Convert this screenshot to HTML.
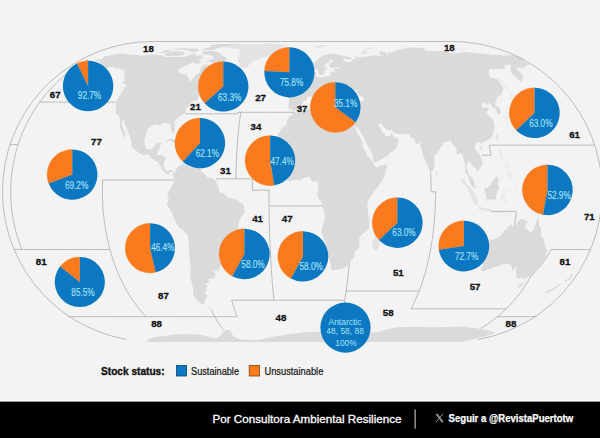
<!DOCTYPE html>
<html><head><meta charset="utf-8"><title>Stock status</title>
<style>html,body{margin:0;padding:0;background:#f3f3f3}body{width:600px;height:438px;overflow:hidden;font-family:"Liberation Sans",sans-serif}svg{display:block}</style></head>
<body><svg width="600" height="438" viewBox="0 0 600 438">
<rect width="600" height="438" fill="#f3f3f3"/>
<clipPath id="gc"><path d="M152.5 40.7H452.1A150.9 150.9 0 0 1 452.1 342.5H152.5A150.9 150.9 0 0 1 152.5 40.7Z"/></clipPath>
<g clip-path="url(#gc)"><path d="M95.7 60.1L102.6 58.9L103.7 56.7L113.0 54.7L122.4 53.2L127.9 54.2L136.7 55.1L142.6 55.8L153.1 54.5L161.2 55.3L164.7 57.0L173.0 57.0L182.6 57.0L189.4 55.3L194.9 52.7L195.8 55.8L202.4 55.3L203.0 58.3L193.5 62.2L180.0 67.9L178.3 69.7L178.6 72.5L187.0 75.3L189.0 79.1L190.3 82.0L194.4 76.6L199.3 72.5L200.8 67.9L203.8 64.4L209.1 65.0L212.1 66.5L212.6 70.2L217.7 67.9L218.6 67.5L219.8 71.8L223.1 76.6L224.3 80.8L217.6 83.9L209.2 83.9L201.6 88.8L209.7 86.4L210.7 86.3L208.5 89.7L210.1 91.6L215.3 91.2L213.3 92.9L208.4 94.8L205.0 96.1L205.9 93.4L204.4 93.4L199.2 95.9L197.5 97.8L198.0 99.8L191.3 101.9L190.7 104.1L187.5 107.1L186.2 109.1L185.7 112.6L181.5 115.3L175.7 119.5L174.5 122.7L174.9 130.2L173.9 133.9L171.6 132.4L170.9 128.0L170.0 123.7L167.0 123.1L162.2 123.3L160.1 125.4L155.6 124.4L152.2 125.4L147.6 129.1L146.0 134.6L144.3 140.5L145.5 147.3L148.0 149.8L152.2 148.8L155.4 144.6L156.4 143.0L161.4 142.3L159.7 147.9L157.9 151.3L156.6 155.2L161.2 155.0L165.4 157.0L164.3 162.8L163.9 166.2L165.6 170.2L168.0 171.3L170.2 169.7L173.8 171.8L173.1 174.8L172.1 172.0L169.6 172.0L168.6 174.8L164.6 172.5L161.5 168.5L160.4 166.2L158.0 161.6L154.8 160.5L151.0 158.2L148.1 154.5L143.1 155.2L138.6 152.5L135.7 150.2L131.4 146.8L131.5 142.3L130.7 138.3L128.1 132.4L126.8 128.5L124.8 124.8L124.4 121.0L122.7 120.1L121.9 123.7L123.5 129.1L124.7 133.5L125.2 137.9L125.0 139.2L122.8 134.6L121.0 129.5L120.1 126.9L119.9 122.7L119.7 118.4L118.7 115.3L115.9 114.2L115.7 109.5L115.9 107.5L116.1 102.5L118.4 97.2L122.5 91.2L124.1 87.2L127.2 86.1L125.6 84.3L122.5 82.9L124.1 80.8L124.8 76.6L124.3 74.1L124.7 71.0L122.0 69.7L119.7 68.2L114.9 67.9L112.8 66.5L109.8 66.7L105.8 69.0L102.6 69.4L99.7 70.2L96.6 71.8L90.1 73.3L82.0 75.8L77.4 76.4L85.2 74.1L92.9 71.0L95.5 69.9L91.5 69.9L91.5 67.9L89.0 66.9L90.4 65.0L94.4 63.6L99.8 62.9L102.0 61.5L97.0 61.5ZM227.4 58.9L221.8 62.9L218.0 65.0L212.6 63.6L210.2 61.5L205.2 61.5L213.9 58.3L212.4 55.8L206.5 54.7L202.4 54.1L202.9 51.0L212.1 50.8L216.6 51.7L221.3 53.8L223.0 55.8L227.2 58.3ZM163.9 55.8L177.8 56.1L184.3 54.7L184.2 51.5L174.6 51.2L167.0 53.0ZM159.9 52.5L163.2 53.2L171.9 51.5L170.8 50.2L165.3 50.2ZM206.0 48.2L216.3 48.5L222.8 47.0L230.8 45.9L241.9 44.2L233.2 43.8L219.8 44.1L211.1 44.7L211.7 46.2ZM201.1 49.9L214.3 49.9L215.8 48.8L206.4 48.0ZM174.3 49.5L185.5 50.0L192.1 51.5L194.1 52.5L199.1 50.5L197.7 48.6L189.1 48.6L184.6 48.2L176.1 48.6ZM195.2 60.2L198.9 60.2L201.4 62.5L196.9 64.3L194.2 62.9ZM164.8 141.4L170.1 138.5L173.3 139.0L177.6 142.3L180.6 144.1L181.7 145.2L176.3 145.9L175.7 144.1L172.0 141.7L169.8 140.3L166.4 141.7ZM180.7 149.3L183.9 145.9L188.4 146.1L190.7 148.8L188.0 149.8L185.1 150.7ZM217.1 88.6L224.0 81.7L224.7 81.7L226.6 87.0L226.5 88.8L224.9 90.4L221.4 90.1ZM174.5 173.2L177.4 167.4L178.6 166.2L183.4 163.5L184.6 163.0L184.0 166.2L186.7 163.5L189.8 167.4L193.1 167.1L196.4 167.8L199.7 166.9L201.4 172.0L204.4 173.2L207.5 177.8L212.5 178.3L215.8 181.3L219.0 187.6L219.0 191.8L221.5 193.0L224.0 193.4L228.2 197.7L233.2 198.6L238.2 200.5L240.7 203.1L243.6 204.0L244.5 208.7L244.3 212.9L241.1 217.6L238.8 222.2L238.2 226.9L238.2 232.6L237.3 238.3L236.0 242.8L234.6 245.1L230.6 245.5L227.9 247.3L224.7 250.6L224.9 253.9L224.7 257.2L222.9 261.5L220.8 265.2L219.4 269.0L217.4 270.9L215.6 270.9L211.9 269.6L214.3 272.1L215.4 274.0L214.7 277.2L212.9 278.7L208.5 279.1L209.1 282.7L205.0 283.1L207.8 286.2L206.3 287.6L206.6 291.0L204.3 292.9L207.6 295.1L205.1 299.3L204.4 302.0L204.6 304.3L203.2 304.8L199.6 302.9L195.9 299.3L193.4 294.8L193.4 291.0L192.5 285.2L191.3 281.3L190.1 275.6L190.4 272.1L190.9 266.9L189.7 260.5L189.2 253.9L188.9 247.3L188.5 240.6L187.6 234.7L184.4 231.5L179.1 227.6L176.6 224.1L174.8 219.9L172.2 214.1L169.8 208.7L167.3 205.9L167.0 202.9L168.6 199.8L169.1 197.7L167.4 197.0L167.7 194.2L169.0 190.6L170.7 189.0L171.6 186.0L173.6 182.9L173.4 179.0L173.6 175.5L172.9 175.0ZM293.2 111.6L294.2 111.4L297.7 112.8L299.2 113.0L302.3 111.6L306.9 109.5L309.9 109.5L313.8 109.1L317.2 108.5L319.1 109.1L318.7 111.8L318.1 115.3L319.4 116.7L322.8 117.6L326.2 118.8L329.0 121.6L332.2 123.1L333.7 121.6L333.7 119.3L335.8 117.6L338.1 118.2L341.4 120.1L344.6 121.0L347.8 121.8L349.3 120.7L351.6 120.5L352.9 121.0L353.5 123.7L354.3 126.9L356.1 130.2L357.5 133.5L359.4 136.8L362.0 141.2L362.6 143.5L362.8 146.6L365.2 150.2L367.2 155.9L369.7 158.2L372.4 161.2L373.8 162.8L373.7 165.1L376.8 167.6L380.0 165.8L383.3 165.5L386.9 164.1L386.9 167.6L385.3 173.2L383.0 179.0L380.5 183.6L377.8 187.1L374.8 190.6L373.1 192.7L370.6 196.5L369.2 198.9L368.4 201.2L367.2 204.7L367.6 207.8L367.8 211.8L368.2 215.3L369.3 216.9L369.3 221.1L369.2 225.7L368.7 229.2L366.1 231.5L362.6 233.5L359.1 237.9L359.5 241.7L359.5 246.2L359.0 248.4L354.4 251.7L354.6 255.0L353.4 257.9L351.1 260.5L349.3 263.3L345.7 266.9L342.0 269.0L336.5 269.4L333.2 270.7L330.9 269.6L330.8 266.9L330.8 264.1L329.5 260.5L328.4 257.4L326.5 253.3L325.6 247.3L325.7 244.4L323.9 239.4L321.9 233.8L321.6 230.3L322.3 226.9L324.4 221.1L325.1 217.6L324.2 212.5L322.7 205.9L321.9 203.1L318.1 197.7L317.0 193.4L318.1 190.9L318.1 187.1L318.4 182.5L316.8 181.3L313.9 181.5L312.3 181.8L310.6 178.5L309.8 177.1L308.0 176.9L304.3 177.6L302.0 179.0L299.0 180.6L297.3 179.9L295.6 179.4L292.3 180.6L289.8 181.5L287.3 180.1L284.3 177.1L281.5 174.3L280.4 172.0L279.6 169.7L277.5 166.7L275.9 163.9L274.9 160.7L273.5 157.7L275.2 154.7L276.2 150.0L275.8 146.8L274.7 143.5L276.6 137.4L279.1 132.2L281.8 128.2L284.1 126.5L286.5 124.8L287.1 122.7L287.0 120.5L289.1 116.7L290.5 116.1L291.8 115.3L293.1 112.8ZM293.7 111.2L292.7 109.9L291.0 108.7L288.7 109.1L289.0 106.3L287.9 105.5L288.9 102.7L289.3 100.7L289.1 98.2L288.5 97.2L290.5 95.9L294.2 96.1L297.1 96.3L299.6 96.5L300.4 94.4L300.6 91.6L299.1 89.3L295.8 88.2L295.4 87.2L298.0 86.4L300.0 86.8L299.8 84.8L302.4 85.2L305.0 82.5L307.2 81.8L308.5 80.0L308.9 79.1L311.9 78.3L314.0 78.1L314.2 76.1L313.4 75.0L313.1 72.5L315.0 72.2L316.4 71.4L316.4 73.3L315.8 75.0L315.6 76.1L317.3 76.8L319.4 76.8L321.5 77.4L324.8 76.6L327.5 76.3L329.3 76.6L330.8 75.3L330.4 72.9L331.6 71.6L334.4 72.4L334.6 70.5L333.1 69.1L336.3 68.7L338.9 68.5L341.3 67.9L339.2 67.2L336.0 67.3L332.3 68.1L330.2 67.2L329.6 65.7L329.5 63.6L332.2 61.5L333.5 60.6L332.0 59.8L329.7 60.1L329.1 61.5L328.0 62.5L325.7 63.9L324.5 65.7L324.6 67.0L326.8 67.9L326.3 69.0L324.4 70.1L324.4 72.5L323.8 73.8L321.7 75.0L319.9 75.1L319.1 73.7L318.1 71.4L317.0 69.4L316.1 68.2L314.8 69.6L312.9 70.8L311.6 71.0L309.7 69.7L309.2 67.3L308.7 65.3L310.2 64.2L313.0 62.9L315.4 61.9L317.1 60.2L318.1 58.7L319.8 57.7L320.7 56.4L322.9 55.5L324.6 54.9L327.4 54.5L330.0 53.6L332.0 53.5L334.6 53.6L338.4 54.4L337.5 55.0L341.1 55.4L344.8 55.7L350.3 57.3L352.3 58.5L351.2 59.3L348.8 59.6L344.2 58.7L341.6 58.2L344.2 60.2L345.7 61.7L348.7 62.5L349.6 61.7L352.7 61.5L351.4 59.9L353.5 59.0L356.1 59.3L355.5 57.7L353.8 56.3L357.2 56.8L358.1 57.3L360.0 57.5L364.2 56.4L366.7 56.7L370.0 56.3L373.3 55.8L373.2 54.9L377.7 55.5L381.7 56.1L384.0 56.7L380.4 54.7L379.1 53.0L379.9 51.5L380.7 51.2L383.3 51.5L386.0 53.0L388.1 55.8L389.2 56.4L387.2 52.5L388.1 52.3L390.8 52.2L394.0 52.5L392.2 51.0L397.7 50.5L397.5 49.5L404.7 48.6L409.3 48.2L411.9 47.2L416.0 47.8L422.2 48.2L425.6 49.1L424.3 50.5L428.0 50.7L436.1 51.5L440.4 50.8L444.1 51.0L451.8 53.6L454.8 53.0L460.6 53.0L460.4 51.8L468.0 52.2L474.3 53.0L478.9 53.6L484.7 53.6L490.0 55.0L492.5 55.1L498.6 54.7L501.3 54.6L503.4 55.8L508.5 54.9L515.2 55.8L525.0 57.7L535.0 59.4L535.6 61.5L527.6 60.2L523.2 59.2L524.3 61.1L522.7 61.3L530.4 64.6L526.2 65.3L524.5 66.7L524.2 67.9L518.4 67.9L516.1 68.2L518.8 71.0L521.8 73.8L522.6 75.8L523.1 78.8L521.6 79.1L522.3 80.8L522.1 82.5L517.9 79.1L512.3 74.1L510.8 71.3L510.5 67.9L511.0 65.4L510.6 64.3L507.0 65.3L503.3 65.4L505.4 69.0L499.7 68.7L496.2 69.0L489.6 69.0L488.7 71.8L488.9 76.1L490.8 77.4L495.0 78.3L497.1 79.1L500.9 84.3L503.4 87.9L502.8 90.6L501.7 94.4L497.4 97.0L496.4 98.6L496.4 101.1L494.8 104.5L497.3 106.5L500.0 109.1L501.2 113.0L499.2 113.8L497.5 114.2L496.5 111.2L495.2 108.1L492.3 107.1L490.8 104.1L489.3 103.1L486.2 105.5L485.1 101.7L482.5 104.1L480.6 104.7L483.6 108.1L486.1 107.5L489.2 108.5L487.3 111.2L486.3 113.2L489.4 116.3L493.2 120.5L494.5 123.7L494.8 126.9L493.7 131.3L493.0 134.6L491.3 137.2L489.4 139.2L486.8 140.5L483.6 141.9L481.4 143.0L481.0 145.0L479.6 142.3L477.1 142.1L475.5 144.1L474.7 147.9L476.4 151.3L479.8 154.7L482.2 160.5L482.7 164.4L480.2 167.4L479.1 169.7L476.5 171.8L476.2 168.5L473.6 167.1L471.6 163.9L468.9 162.3L467.9 160.5L467.5 163.9L466.6 168.5L468.2 172.0L469.2 175.5L471.8 177.3L474.2 181.3L474.7 186.0L475.9 188.5L474.6 188.5L471.3 185.3L469.5 181.3L469.0 177.8L466.6 173.6L465.4 173.2L465.4 168.5L465.0 163.9L463.6 159.3L462.1 153.6L459.6 153.6L457.0 154.7L456.7 150.2L454.4 146.1L451.8 143.5L450.6 140.5L448.7 141.2L446.3 141.9L443.2 142.6L443.2 144.6L441.4 146.4L439.4 149.5L437.1 152.9L435.2 155.0L434.1 157.0L434.7 161.4L434.2 165.1L434.4 167.8L433.2 170.2L432.0 171.3L430.9 172.9L429.1 170.8L427.6 165.8L425.6 161.6L423.9 157.0L422.3 152.5L420.9 147.9L420.2 143.5L419.5 140.8L419.0 143.0L417.5 144.1L415.8 143.5L413.8 140.5L415.5 139.2L412.7 138.3L410.9 137.0L409.8 135.0L408.8 133.7L405.6 133.9L400.8 134.4L396.8 133.7L393.9 133.0L391.9 129.8L389.2 131.1L385.8 129.1L382.6 125.9L381.0 123.3L378.7 123.7L378.1 125.2L379.5 127.6L382.0 130.9L382.6 133.0L384.2 132.2L385.0 134.6L385.0 136.1L387.5 136.6L389.8 135.7L392.3 131.7L392.5 134.6L394.0 137.0L396.6 137.7L398.9 140.1L397.5 144.8L396.3 147.9L394.6 150.2L390.7 152.5L387.7 155.7L383.1 158.2L376.5 162.1L374.1 162.3L373.1 159.3L372.6 155.9L371.9 153.2L370.0 149.1L367.3 145.0L365.6 142.3L364.3 137.9L361.9 134.6L359.7 130.6L357.8 127.8L357.2 124.8L356.8 128.5L354.9 126.7L353.7 123.9L352.9 121.0L354.8 121.4L356.1 121.0L356.7 118.4L357.3 115.5L357.5 112.2L357.7 109.9L355.2 109.5L352.2 111.0L349.2 109.3L347.5 110.7L345.4 109.7L344.0 109.1L342.2 106.5L341.8 104.1L341.7 103.1L343.6 102.3L345.7 101.1L349.4 100.7L352.1 99.2L354.4 99.2L356.8 100.5L359.9 101.1L361.7 101.1L364.3 99.9L363.9 98.2L360.8 96.1L358.0 94.4L355.7 92.9L357.3 90.6L358.9 89.3L356.5 90.1L353.5 91.0L353.3 92.5L355.5 92.7L354.0 93.4L351.4 94.6L349.7 92.7L351.1 91.4L348.6 90.6L346.7 90.6L345.6 93.1L344.3 94.9L343.5 96.9L343.4 98.2L344.0 99.4L345.5 101.1L343.4 101.1L342.4 102.1L341.3 101.7L338.2 101.5L338.1 103.1L336.8 102.1L336.5 104.1L337.6 105.3L338.8 107.7L337.3 107.3L337.7 110.1L336.8 110.3L335.5 109.5L334.7 107.5L334.3 106.5L333.6 105.1L332.1 103.1L331.3 100.5L330.9 99.2L329.1 98.0L326.6 96.3L324.6 94.9L323.4 92.9L322.2 93.2L322.2 92.1L320.2 92.7L320.5 94.9L322.4 96.3L323.4 98.2L326.4 99.6L326.2 100.3L327.6 100.9L330.1 102.9L329.9 103.5L328.1 102.3L327.3 103.7L328.2 105.1L327.3 106.5L326.2 107.3L326.2 105.9L326.6 104.1L325.8 103.1L324.5 101.9L323.6 101.5L321.7 100.5L320.5 99.6L318.6 98.4L317.8 97.2L317.5 96.1L316.7 95.1L315.4 94.6L314.1 95.5L313.1 95.9L311.2 97.0L310.3 96.7L308.2 96.3L307.0 96.9L306.9 98.4L307.1 99.4L305.6 100.3L303.6 101.1L303.2 102.1L301.8 104.1L302.6 105.5L301.5 106.5L301.1 107.9L298.9 109.7L295.6 109.7L294.2 111.0ZM294.3 84.1L297.4 83.8L300.2 83.1L304.3 82.4L303.7 81.2L304.7 79.6L302.7 79.1L302.3 78.1L300.7 76.4L300.1 75.0L298.9 74.1L298.0 74.1L299.6 72.4L299.9 71.6L297.0 71.6L298.2 70.1L295.7 70.1L294.6 71.8L294.0 73.3L294.9 75.0L295.8 75.8L295.3 76.3L297.5 75.9L297.9 77.4L298.2 78.4L296.1 78.6L296.5 79.4L295.8 80.8L295.0 81.2L296.7 81.5L298.5 81.7L296.4 82.2L295.3 83.4ZM288.6 81.7L291.1 81.2L293.4 80.5L294.0 78.6L294.8 76.6L293.9 75.4L292.3 75.3L290.7 76.6L288.6 77.1L288.5 78.4L289.5 78.9L289.1 80.0L288.0 80.6ZM484.4 188.5L484.7 191.8L485.9 195.3L486.2 198.4L488.4 199.6L492.8 199.3L495.1 200.5L495.8 197.7L497.6 190.6L499.7 189.5L498.0 184.8L497.7 182.0L499.6 179.7L496.4 176.2L495.2 178.3L492.3 181.5L490.8 185.0L488.2 186.2L487.5 188.5L486.0 188.3L485.2 187.6ZM525.9 195.6L526.3 197.7L527.1 199.6L529.7 197.0L532.2 195.6L536.6 197.7L542.0 200.7L544.8 204.0L547.5 205.9L546.5 207.8L548.6 211.8L552.0 216.9L547.4 215.5L546.2 214.1L543.0 210.1L540.3 211.8L539.3 213.4L536.0 213.2L533.0 210.6L531.2 211.5L531.0 208.3L532.8 207.1L531.0 203.6L527.0 202.2L525.1 200.3ZM485.9 243.9L486.9 242.4L490.5 240.1L495.0 239.0L500.3 236.0L501.9 233.8L503.8 230.3L506.5 229.2L508.7 225.7L511.4 224.6L513.0 226.9L515.2 226.6L516.5 223.4L518.2 220.9L521.5 218.5L525.2 220.4L528.2 220.4L526.4 223.4L525.0 226.9L527.1 228.9L530.5 232.8L533.3 230.3L535.3 224.6L536.3 221.1L538.1 216.9L539.1 221.1L538.9 225.3L540.9 228.0L541.0 231.2L541.4 236.7L543.9 239.0L544.2 240.8L544.7 246.0L547.2 250.2L545.8 254.8L545.5 257.4L542.4 262.6L538.6 266.7L536.6 268.8L532.9 273.1L530.9 276.2L527.4 277.0L523.6 279.5L522.6 277.2L519.5 278.9L517.0 278.1L515.9 275.2L516.6 272.7L515.3 272.3L516.1 270.7L517.1 266.0L514.5 269.0L512.2 270.4L511.6 266.9L511.1 265.0L507.4 263.7L504.1 264.1L498.9 265.4L495.2 266.9L491.2 268.8L488.2 269.0L484.1 271.1L481.4 270.7L480.4 269.6L481.9 267.5L483.2 264.8L483.2 261.1L483.6 257.9L483.5 251.7L484.8 247.3ZM147.5 342.0L148.3 339.3L155.0 337.3L163.3 336.0L176.0 334.6L190.0 334.0L201.7 335.0L208.0 336.8L213.3 338.3L218.0 337.6L221.0 335.0L223.5 331.5L226.0 329.8L230.0 330.2L232.0 333.0L233.0 336.5L240.0 339.3L256.7 340.0L265.0 338.6L273.3 336.7L290.0 334.0L303.0 332.6L316.7 331.7L330.0 331.7L350.0 332.4L370.0 332.7L380.0 331.7L388.0 329.3L396.7 327.3L416.7 326.7L428.0 327.2L440.0 327.3L452.0 326.8L463.3 326.7L476.7 328.3L490.0 330.8L495.5 332.8L486.0 336.0L472.0 339.6L460.0 342.0Z" fill="#dadada"/><path d="M226.2 46.8L233.4 45.5L243.5 44.3L258.9 43.9L271.9 43.5L280.8 44.3L290.4 44.6L283.9 45.9L282.1 47.8L279.0 50.5L277.2 52.5L274.4 54.1L276.6 54.7L270.2 56.4L264.0 57.0L258.2 59.6L252.8 60.9L246.3 67.9L245.0 68.1L240.4 66.5L238.5 62.2L237.5 58.3L238.8 55.3L241.9 54.1L239.6 52.5L239.3 49.1L231.1 48.6L227.4 48.2ZM272.1 60.2L275.5 59.0L282.8 58.9L285.6 60.9L279.6 63.0L273.8 62.5L274.9 61.5ZM174.5 149.3L177.7 149.8L177.6 150.4L174.4 150.0ZM192.7 149.1L195.2 149.3L195.2 150.2L192.5 150.2ZM383.7 219.9L385.2 228.0L383.2 232.6L382.2 236.0L379.8 243.9L378.0 249.3L374.6 250.9L372.6 247.3L372.3 242.8L374.3 238.3L374.3 231.5L376.1 229.2L379.5 226.9L381.9 223.4ZM313.7 46.6L316.5 45.7L322.5 45.4L329.6 45.4L327.2 46.6L323.1 46.7L320.5 48.1L317.1 47.4ZM361.1 52.7L363.7 53.9L368.4 54.0L365.7 52.0L366.7 50.0L369.3 48.8L375.2 47.9L371.4 47.8L365.1 48.9L363.9 50.5L361.7 52.0ZM400.1 46.2L404.5 45.9L411.3 46.6L406.9 47.0ZM452.2 49.1L456.5 48.6L465.7 49.3L461.4 49.7ZM508.3 53.6L511.0 53.0L512.9 53.6L510.6 53.8ZM496.9 133.9L497.9 134.6L497.7 141.2L495.8 139.0L495.6 136.8L496.3 134.6ZM479.4 147.5L481.1 145.5L482.9 146.6L481.8 149.3L480.2 149.5ZM435.4 170.2L437.2 173.2L437.4 176.4L436.3 177.1L435.6 174.3ZM460.8 178.7L464.2 179.9L466.3 183.2L469.4 186.9L473.2 190.9L474.9 194.2L476.5 197.2L478.1 199.3L477.9 205.0L476.2 205.2L472.9 201.0L469.9 194.4L467.4 188.3L464.3 184.6L461.5 181.1ZM477.4 207.8L479.8 206.6L482.7 207.8L485.9 208.3L489.5 208.7L492.2 210.1L492.1 211.8L488.1 211.1L483.3 209.9L479.2 209.2ZM493.1 210.8L496.4 211.1L499.7 211.3L503.0 211.5L506.4 211.1L506.3 212.5L501.3 212.9L496.3 212.9L493.0 212.5ZM519.2 282.7L521.4 283.5L524.3 283.1L522.7 285.6L520.2 287.6L517.6 288.2L518.1 285.8Z" fill="#e3e3e3"/><path d="M497.3 76.8L501.1 80.0L504.8 84.3L508.2 86.1L507.9 88.8L510.3 91.0L508.6 91.7L505.8 87.9L503.0 84.3L499.6 80.8L497.8 78.3ZM511.2 100.1L509.5 96.7L508.7 92.5L512.2 94.8L515.6 94.8L517.4 96.7L515.3 99.2L511.5 98.2L511.6 100.1ZM513.2 100.3L516.5 104.1L516.6 107.1L518.9 111.8L518.2 113.2L516.7 113.2L516.0 114.0L514.0 114.0L514.1 114.7L513.2 116.3L511.2 114.7L511.3 114.0L508.8 114.5L507.3 115.3L505.1 115.3L504.7 114.0L506.2 112.2L508.4 112.0L510.7 112.0L511.1 111.2L511.0 108.5L511.5 108.1L511.8 109.5L513.5 108.3L513.7 106.1L512.9 103.1L512.0 101.5L512.0 100.7ZM505.3 115.5L507.1 115.9L510.8 114.9L510.8 116.7L509.4 117.8L507.7 117.4L508.2 119.5L507.6 121.0L507.4 121.6L506.3 121.0L505.3 118.4L504.1 117.4L504.7 116.1ZM499.1 149.1L501.7 149.3L502.2 153.6L502.0 157.0L504.0 159.3L506.5 159.8L506.8 162.1L505.0 160.5L502.4 160.0L500.7 158.6L499.3 155.9L499.5 154.1ZM505.0 175.7L507.1 171.8L510.2 169.2L512.2 173.2L512.1 177.1L511.0 178.7L508.4 177.1L507.0 174.6ZM503.8 164.4L507.2 165.1L509.4 162.8L509.8 165.8L509.3 168.5L507.0 170.2L505.2 168.5ZM496.8 172.5L499.9 165.5L500.4 166.2L497.4 172.7ZM506.7 216.0L509.6 212.0L513.5 211.5L512.0 213.4L508.4 215.7ZM499.5 214.1L502.4 214.6L501.8 216.0L499.7 215.3ZM500.9 203.8L501.8 200.0L500.1 198.4L501.1 194.2L501.9 191.8L503.5 188.8L507.2 189.7L510.2 188.3L509.7 190.9L503.9 190.6L502.7 193.9L504.7 194.2L507.7 193.9L505.5 196.0L504.6 198.2L505.9 200.0L507.0 202.4L506.2 204.7L504.5 202.9L503.8 198.9L502.8 200.0L502.5 204.7ZM514.7 186.7L516.7 188.3L515.6 193.7L514.7 190.6ZM515.4 198.9L520.1 198.9L520.0 200.5L515.4 200.0ZM549.3 204.7L551.8 203.6L555.3 201.7L555.7 203.6L551.6 206.4ZM207.5 304.8L211.0 306.3L215.2 311.3L213.0 312.6L209.2 309.6Z" fill="#ececec"/></g>
<path d="M545.7 293L552 289.8L560.5 284.6M565 281.2L568 279.5L570.8 277.6L571.5 274.5" fill="none" stroke="#d6d6d6" stroke-width="1.2" stroke-linecap="round"/>
<path d="M88.0 59.6L81.0 63.6L74.4 68.0L68.1 72.7L62.1 77.6L56.5 82.8L51.2 88.2L46.2 93.9L41.5 99.7L37.2 105.7L33.2 111.8L29.6 118.1L26.2 124.6L23.2 131.1L20.5 137.8L18.2 144.6L16.1 151.4L14.4 158.3L13.0 165.3L12.0 172.3L11.2 179.4L10.8 186.4L10.7 193.5L11.0 200.7L11.5 207.8L12.4 214.9L13.7 221.9L15.2 228.9L17.1 235.9L19.3 242.7L21.8 249.5M39.8 102.1L44.5 102.1L49.3 102.1L54.0 102.1L58.8 102.1L63.5 102.1L68.3 102.1L73.0 102.1L77.8 102.1L82.5 102.1L87.3 102.1L92.0 102.1L96.8 102.1L101.6 102.1L106.3 102.1L111.1 102.1L115.8 102.1M13.8 249.5L18.6 249.5L23.4 249.5L28.2 249.5L33.0 249.5L37.8 249.5L42.6 249.5L47.4 249.5L52.2 249.5L57.1 249.5L61.9 249.5L66.7 249.5L71.5 249.5L76.3 249.5L81.1 249.5L85.9 249.5L90.7 249.5L95.5 249.5L100.3 249.5L105.1 249.5L109.9 249.5M173.4 180.0L168.3 180.0L163.3 180.0L158.2 180.0L153.2 180.0L148.1 180.0L143.1 180.0L138.0 180.0L133.0 180.0L127.9 180.0L122.9 180.0L117.8 180.0L112.8 180.0L107.7 180.0L102.7 180.0L102.4 187.2L102.4 194.5L102.6 201.8L103.0 209.1L103.7 216.3L104.6 223.5L105.7 230.6L107.1 237.7L108.7 244.7L110.5 251.6L112.6 258.4L114.9 265.0L117.4 271.5L120.2 277.9L123.2 284.1L126.4 290.1L129.9 295.9L133.6 301.5L137.5 306.8L141.7 311.9L146.1 316.7M68.0 316.7L72.0 316.7L75.9 316.7L79.8 316.7L83.8 316.7L87.7 316.7L91.6 316.7L95.6 316.7L99.5 316.7L103.4 316.7L107.4 316.7L111.3 316.7L115.2 316.7L119.2 316.7L123.1 316.7L127.0 316.7L131.0 316.7L134.9 316.7L138.9 316.7L142.8 316.7L146.7 316.7L150.7 316.7L154.6 316.7L158.5 316.7L162.5 316.7L166.4 316.7L170.3 316.7L174.3 316.7L178.2 316.7L182.1 316.7L186.1 316.7L190.0 316.7L193.9 316.7L197.9 316.7L201.8 316.7L205.7 316.7L209.7 316.7L213.6 316.7L217.6 316.7L221.5 316.7L225.4 316.7L229.4 316.7L233.3 316.7L237.2 316.7L235.2 311.6L233.4 306.0L231.6 300.2L236.0 300.2L240.3 300.2L244.7 300.2L249.0 300.2L253.4 300.2L257.7 300.2L262.1 300.2L266.4 300.2L270.8 300.2L275.1 300.2L279.5 300.2L283.8 300.2L288.2 300.2L292.5 300.2L296.9 300.2L301.2 300.2L305.6 300.2L309.9 300.2L314.3 300.2L318.6 300.2L323.0 300.2L327.3 300.2L331.7 300.2L336.0 300.2L340.3 300.2L344.7 300.2M211.5 310.5L214.3 316.0L217.2 321.1L220.4 325.8L223.7 330.1M349.4 262.6L348.7 269.4L348.0 276.1L347.3 282.5L346.5 288.8L345.6 294.9L344.6 300.7L343.6 306.3L342.5 311.6L341.4 316.6L340.2 321.2L338.9 325.6L337.6 329.5M346.1 291.0L350.7 291.0L355.3 291.0L359.8 291.0L364.4 291.0L369.0 291.0L373.5 291.0L378.1 291.0L382.7 291.0L387.2 291.0L391.8 291.0L396.4 291.0L400.9 291.0L405.5 291.0L410.1 291.0L414.6 291.0L419.2 291.0M430.6 173.2L431.0 182.5L431.1 191.8L435.6 191.8L435.5 199.0L435.3 206.2L434.9 213.3L434.4 220.4L433.7 227.5L432.9 234.5L431.9 241.4L430.8 248.3L429.5 255.0L428.0 261.7L426.5 268.2L424.7 274.5L422.8 280.7L420.8 286.8L418.6 292.6L416.2 298.2L413.8 303.7L411.1 308.8L415.2 308.8L419.4 308.8L423.5 308.8L427.7 308.8L431.8 308.8L435.9 308.8L440.1 308.8L444.2 308.8L448.3 308.8L452.5 308.8L456.6 308.8L460.8 308.8L464.9 308.8L469.0 308.8L473.2 308.8L477.3 308.8L481.5 308.8L485.6 308.8L489.7 308.8L493.9 308.8L498.0 308.8L502.2 308.8L506.3 308.8M590.8 249.5L585.8 249.5L580.8 249.5L575.8 249.5L570.8 249.5L565.8 249.5L560.8 249.5L555.8 249.5L550.8 249.5L544.6 260.5L536.0 271.1L530.9 276.2L527.2 282.5L523.3 288.5L519.0 294.4L514.4 300.1L509.6 305.5L504.4 310.6L499.0 315.5L493.2 320.1L487.2 324.4L480.8 328.3M497.5 316.7L501.4 316.7L505.3 316.7L509.2 316.7L513.1 316.7L517.0 316.7L521.0 316.7L524.9 316.7L528.8 316.7L532.7 316.7L536.6 316.7M594.8 145.2L589.7 145.2L584.7 145.2L579.7 145.2L574.7 145.2L569.6 145.2L564.6 145.2L559.6 145.2L554.5 145.2L549.5 145.2L544.5 145.2L539.5 145.2L534.4 145.2L529.4 145.2L524.4 145.2L519.3 145.2L514.3 145.2L509.3 145.2L504.2 145.2L499.2 145.2L494.2 145.2L489.2 145.2L491.0 155.2L482.0 155.2M490.6 211.3L495.8 211.3L500.9 211.3L506.0 211.3L511.2 211.3L516.3 211.3L515.5 219.0L514.3 226.6M10.0 144.6L18.2 144.6M185.4 113.8L190.1 113.8L194.9 113.8L199.6 113.8L204.3 113.8L209.0 113.8L213.8 113.8L218.5 113.8L223.2 113.8L228.0 113.8L232.7 113.8L237.4 113.8L237.7 112.3L242.3 112.3L247.0 112.3L251.7 112.3L256.3 112.3L261.0 112.3L265.7 112.3L270.3 112.3L275.0 112.3L279.7 112.3L284.3 112.3L289.0 112.3L293.7 112.3M240.7 112.3L239.8 119.2L239.0 126.3L238.3 133.5L237.6 140.9L237.1 148.3L236.6 155.9L236.3 163.5L236.0 171.1L235.8 178.9M215.8 178.9L221.1 178.9L226.3 178.9L231.5 178.9L236.7 178.9L242.0 178.9L247.2 178.9L252.4 178.9L252.3 190.2L257.9 190.2L263.4 190.2L269.0 190.2L269.0 198.0L269.1 205.9L274.5 205.9L279.9 205.9L285.3 205.9L290.7 205.9L296.1 205.9L301.5 205.9L306.9 205.9L312.3 205.9L317.7 205.9L323.1 205.9M269.1 205.9L269.1 213.3L269.3 220.6L269.5 227.9L269.7 235.1L269.9 242.2L270.2 249.2L270.6 256.1L270.9 262.9L271.4 269.6L271.8 276.1L272.3 282.4L272.8 288.6L273.4 294.5L274.0 300.2" fill="none" stroke="#a9a9a9" stroke-width="0.75"/>
<path d="M126.4 339.4A150.1 150.1 0 0 1 152.5 41.5H452.1A150.1 150.1 0 0 1 478.2 339.4" fill="none" stroke="#adadad" stroke-width="0.8"/>
<path d="M88.1 86.0L76.94 63.40A25.2 25.2 0 0 1 88.1 60.8Z" fill="#fb7a1e" stroke="#fb7a1e" stroke-width="0.3" stroke-linejoin="round"/><path d="M88.1 86.0L88.1 60.8A25.2 25.2 0 1 1 76.94 63.40Z" fill="#0b78c1"/>
<path d="M223.3 86.5L204.68 103.33A25.1 25.1 0 0 1 223.3 61.4Z" fill="#fb7a1e" stroke="#fb7a1e" stroke-width="0.3" stroke-linejoin="round"/><path d="M223.3 86.5L223.3 61.4A25.1 25.1 0 1 1 204.68 103.33Z" fill="#0b78c1"/>
<path d="M289.4 72.3L264.33 71.04A25.1 25.1 0 0 1 289.4 47.199999999999996Z" fill="#fb7a1e" stroke="#fb7a1e" stroke-width="0.3" stroke-linejoin="round"/><path d="M289.4 72.3L289.4 47.199999999999996A25.1 25.1 0 1 1 264.33 71.04Z" fill="#0b78c1"/>
<path d="M335.4 107.3L355.61 122.18A25.1 25.1 0 1 1 335.4 82.19999999999999Z" fill="#fb7a1e" stroke="#fb7a1e" stroke-width="0.3" stroke-linejoin="round"/><path d="M335.4 107.3L335.4 82.19999999999999A25.1 25.1 0 0 1 355.61 122.18Z" fill="#0b78c1"/>
<path d="M534.5 112.9L516.13 130.15A25.2 25.2 0 0 1 534.5 87.7Z" fill="#fb7a1e" stroke="#fb7a1e" stroke-width="0.3" stroke-linejoin="round"/><path d="M534.5 112.9L534.5 87.7A25.2 25.2 0 1 1 516.13 130.15Z" fill="#0b78c1"/>
<path d="M200.0 143.2L182.70 161.39A25.1 25.1 0 0 1 200.0 118.1Z" fill="#fb7a1e" stroke="#fb7a1e" stroke-width="0.3" stroke-linejoin="round"/><path d="M200.0 143.2L200.0 118.1A25.1 25.1 0 1 1 182.70 161.39Z" fill="#0b78c1"/>
<path d="M270.1 160.6L274.18 185.37A25.1 25.1 0 1 1 270.1 135.5Z" fill="#fb7a1e" stroke="#fb7a1e" stroke-width="0.3" stroke-linejoin="round"/><path d="M270.1 160.6L270.1 135.5A25.1 25.1 0 0 1 274.18 185.37Z" fill="#0b78c1"/>
<path d="M72.3 174.6L48.75 183.58A25.2 25.2 0 0 1 72.3 149.4Z" fill="#fb7a1e" stroke="#fb7a1e" stroke-width="0.3" stroke-linejoin="round"/><path d="M72.3 174.6L72.3 149.4A25.2 25.2 0 1 1 48.75 183.58Z" fill="#0b78c1"/>
<path d="M547.5 189.9L542.93 214.68A25.2 25.2 0 0 1 547.5 164.70000000000002Z" fill="#fb7a1e" stroke="#fb7a1e" stroke-width="0.3" stroke-linejoin="round"/><path d="M547.5 189.9L547.5 164.70000000000002A25.2 25.2 0 1 1 542.93 214.68Z" fill="#0b78c1"/>
<path d="M397.4 222.7L379.03 239.95A25.2 25.2 0 0 1 397.4 197.5Z" fill="#fb7a1e" stroke="#fb7a1e" stroke-width="0.3" stroke-linejoin="round"/><path d="M397.4 222.7L397.4 197.5A25.2 25.2 0 1 1 379.03 239.95Z" fill="#0b78c1"/>
<path d="M463.9 246.1L438.86 249.74A25.3 25.3 0 0 1 463.9 220.79999999999998Z" fill="#fb7a1e" stroke="#fb7a1e" stroke-width="0.3" stroke-linejoin="round"/><path d="M463.9 246.1L463.9 220.79999999999998A25.3 25.3 0 1 1 438.86 249.74Z" fill="#0b78c1"/>
<path d="M150.1 248.1L155.68 272.37A24.9 24.9 0 1 1 150.1 223.2Z" fill="#fb7a1e" stroke="#fb7a1e" stroke-width="0.3" stroke-linejoin="round"/><path d="M150.1 248.1L150.1 223.2A24.9 24.9 0 0 1 155.68 272.37Z" fill="#0b78c1"/>
<path d="M244.4 254.0L232.21 276.17A25.3 25.3 0 0 1 244.4 228.7Z" fill="#fb7a1e" stroke="#fb7a1e" stroke-width="0.3" stroke-linejoin="round"/><path d="M244.4 254.0L244.4 228.7A25.3 25.3 0 1 1 232.21 276.17Z" fill="#0b78c1"/>
<path d="M303.0 256.4L290.86 278.48A25.2 25.2 0 0 1 303.0 231.2Z" fill="#fb7a1e" stroke="#fb7a1e" stroke-width="0.3" stroke-linejoin="round"/><path d="M303.0 256.4L303.0 231.2A25.2 25.2 0 1 1 290.86 278.48Z" fill="#0b78c1"/>
<path d="M79.8 282.0L59.97 266.62A25.1 25.1 0 0 1 79.8 256.9Z" fill="#fb7a1e" stroke="#fb7a1e" stroke-width="0.3" stroke-linejoin="round"/><path d="M79.8 282.0L79.8 256.9A25.1 25.1 0 1 1 59.97 266.62Z" fill="#0b78c1"/>
<circle cx="345.5" cy="327.6" r="25.1" fill="#0b78c1"/>
<g font-family="'Liberation Sans', sans-serif" font-size="10" fill="#a9e2f7" stroke="#a9e2f7" stroke-width="0.12" text-anchor="middle">
<text x="89.5" y="99.2" textLength="23.3" lengthAdjust="spacingAndGlyphs">92.7%</text>
<text x="229.7" y="101.2" textLength="23.3" lengthAdjust="spacingAndGlyphs">63.3%</text>
<text x="291.6" y="86.2" textLength="23.3" lengthAdjust="spacingAndGlyphs">75.8%</text>
<text x="345.6" y="107.3" textLength="23.3" lengthAdjust="spacingAndGlyphs">35.1%</text>
<text x="540.8" y="126.8" textLength="23.3" lengthAdjust="spacingAndGlyphs">63.0%</text>
<text x="207.3" y="156.8" textLength="23.3" lengthAdjust="spacingAndGlyphs">62.1%</text>
<text x="282.2" y="165.0" textLength="23.3" lengthAdjust="spacingAndGlyphs">47.4%</text>
<text x="76.6" y="188.5" textLength="23.3" lengthAdjust="spacingAndGlyphs">69.2%</text>
<text x="559.1" y="199.0" textLength="23.3" lengthAdjust="spacingAndGlyphs">52.9%</text>
<text x="404.0" y="236.1" textLength="23.3" lengthAdjust="spacingAndGlyphs">63.0%</text>
<text x="466.6" y="260.4" textLength="23.3" lengthAdjust="spacingAndGlyphs">72.7%</text>
<text x="162.8" y="251.3" textLength="23.3" lengthAdjust="spacingAndGlyphs">46.4%</text>
<text x="253.0" y="267.9" textLength="23.3" lengthAdjust="spacingAndGlyphs">58.0%</text>
<text x="311.2" y="269.9" textLength="23.3" lengthAdjust="spacingAndGlyphs">58.0%</text>
<text x="83.0" y="295.8" textLength="23.3" lengthAdjust="spacingAndGlyphs">85.5%</text>
</g>
<g font-family="'Liberation Sans', sans-serif" font-size="9" fill="#a6e1f7" text-anchor="middle">
<text x="345.0" y="324.5" textLength="33" lengthAdjust="spacingAndGlyphs">Antarctic</text>
<text x="345.1" y="334" textLength="37.5" lengthAdjust="spacingAndGlyphs">48, 58, 88</text>
<text x="346.0" y="346" textLength="21.5" lengthAdjust="spacingAndGlyphs">100%</text>
</g>
<g font-family="'Liberation Sans', sans-serif" font-size="9.8" font-weight="bold" fill="#111" stroke="#111" stroke-width="0.3" text-anchor="middle">
<text x="148.5" y="52.2" textLength="10.8" lengthAdjust="spacingAndGlyphs">18</text>
<text x="449.3" y="50.8" textLength="10.8" lengthAdjust="spacingAndGlyphs">18</text>
<text x="55.2" y="98.4" textLength="10.8" lengthAdjust="spacingAndGlyphs">67</text>
<text x="96.4" y="144.8" textLength="10.8" lengthAdjust="spacingAndGlyphs">77</text>
<text x="195.5" y="109.9" textLength="10.8" lengthAdjust="spacingAndGlyphs">21</text>
<text x="260.6" y="101.0" textLength="10.8" lengthAdjust="spacingAndGlyphs">27</text>
<text x="302.1" y="111.8" textLength="10.8" lengthAdjust="spacingAndGlyphs">37</text>
<text x="256" y="129.8" textLength="10.8" lengthAdjust="spacingAndGlyphs">34</text>
<text x="225.5" y="173.6" textLength="10.8" lengthAdjust="spacingAndGlyphs">31</text>
<text x="574.6" y="137.9" textLength="10.8" lengthAdjust="spacingAndGlyphs">61</text>
<text x="589.3" y="220.2" textLength="10.8" lengthAdjust="spacingAndGlyphs">71</text>
<text x="257.6" y="221.7" textLength="10.8" lengthAdjust="spacingAndGlyphs">41</text>
<text x="287.2" y="221.7" textLength="10.8" lengthAdjust="spacingAndGlyphs">47</text>
<text x="41.2" y="264.8" textLength="10.8" lengthAdjust="spacingAndGlyphs">81</text>
<text x="163.4" y="299.0" textLength="10.8" lengthAdjust="spacingAndGlyphs">87</text>
<text x="156.6" y="326.7" textLength="10.8" lengthAdjust="spacingAndGlyphs">88</text>
<text x="281" y="320.7" textLength="10.8" lengthAdjust="spacingAndGlyphs">48</text>
<text x="398.3" y="276.2" textLength="10.8" lengthAdjust="spacingAndGlyphs">51</text>
<text x="388.2" y="315.8" textLength="10.8" lengthAdjust="spacingAndGlyphs">58</text>
<text x="475.1" y="290.2" textLength="10.8" lengthAdjust="spacingAndGlyphs">57</text>
<text x="565" y="264.8" textLength="10.8" lengthAdjust="spacingAndGlyphs">81</text>
<text x="511" y="326.5" textLength="10.8" lengthAdjust="spacingAndGlyphs">88</text>
</g>
<g font-family="'Liberation Sans', sans-serif" fill="#111" stroke="#111">
<text x="101" y="374.9" font-size="10.6" font-weight="bold" stroke-width="0.35" textLength="63.6" lengthAdjust="spacingAndGlyphs">Stock status:</text>
<rect x="176.4" y="365.4" width="10.2" height="10.6" fill="#0b78c1" stroke="#0a4470" stroke-width="0.8"/>
<text x="191" y="375" font-size="10.5" stroke-width="0.2" textLength="48" lengthAdjust="spacingAndGlyphs">Sustainable</text>
<rect x="249.2" y="365.4" width="10.2" height="10.6" fill="#fb7a1e" stroke="#8a400a" stroke-width="0.8"/>
<text x="264.5" y="375" font-size="10.5" stroke-width="0.2" textLength="58.8" lengthAdjust="spacingAndGlyphs">Unsustainable</text>
</g>
<rect x="0" y="400.1" width="600" height="1.7" fill="#ffffff"/>
<rect x="0" y="401.6" width="600" height="36.4" fill="#000"/>
<g font-family="'Liberation Sans', sans-serif" fill="#fff">
<text x="212.5" y="422.5" font-size="11.8" textLength="189" lengthAdjust="spacingAndGlyphs" stroke="#fff" stroke-width="0.3">Por Consultora Ambiental Resilience</text>
<rect x="414.6" y="409.5" width="1" height="19.2" fill="#ddd"/>
<path d="M436.4 413.8L442.8 422.2" stroke="#8e8e8e" stroke-width="2" fill="none"/><path d="M443.1 413.7L439.9 417.3M439 418.6L435.9 422.2" stroke="#999" stroke-width="1" fill="none"/>
<text x="448.6" y="421.7" font-size="10.8" font-weight="bold" stroke="#fff" stroke-width="0.25" textLength="124.6" lengthAdjust="spacingAndGlyphs">Seguir a @RevistaPuertotw</text>
</g>
</svg></body></html>
